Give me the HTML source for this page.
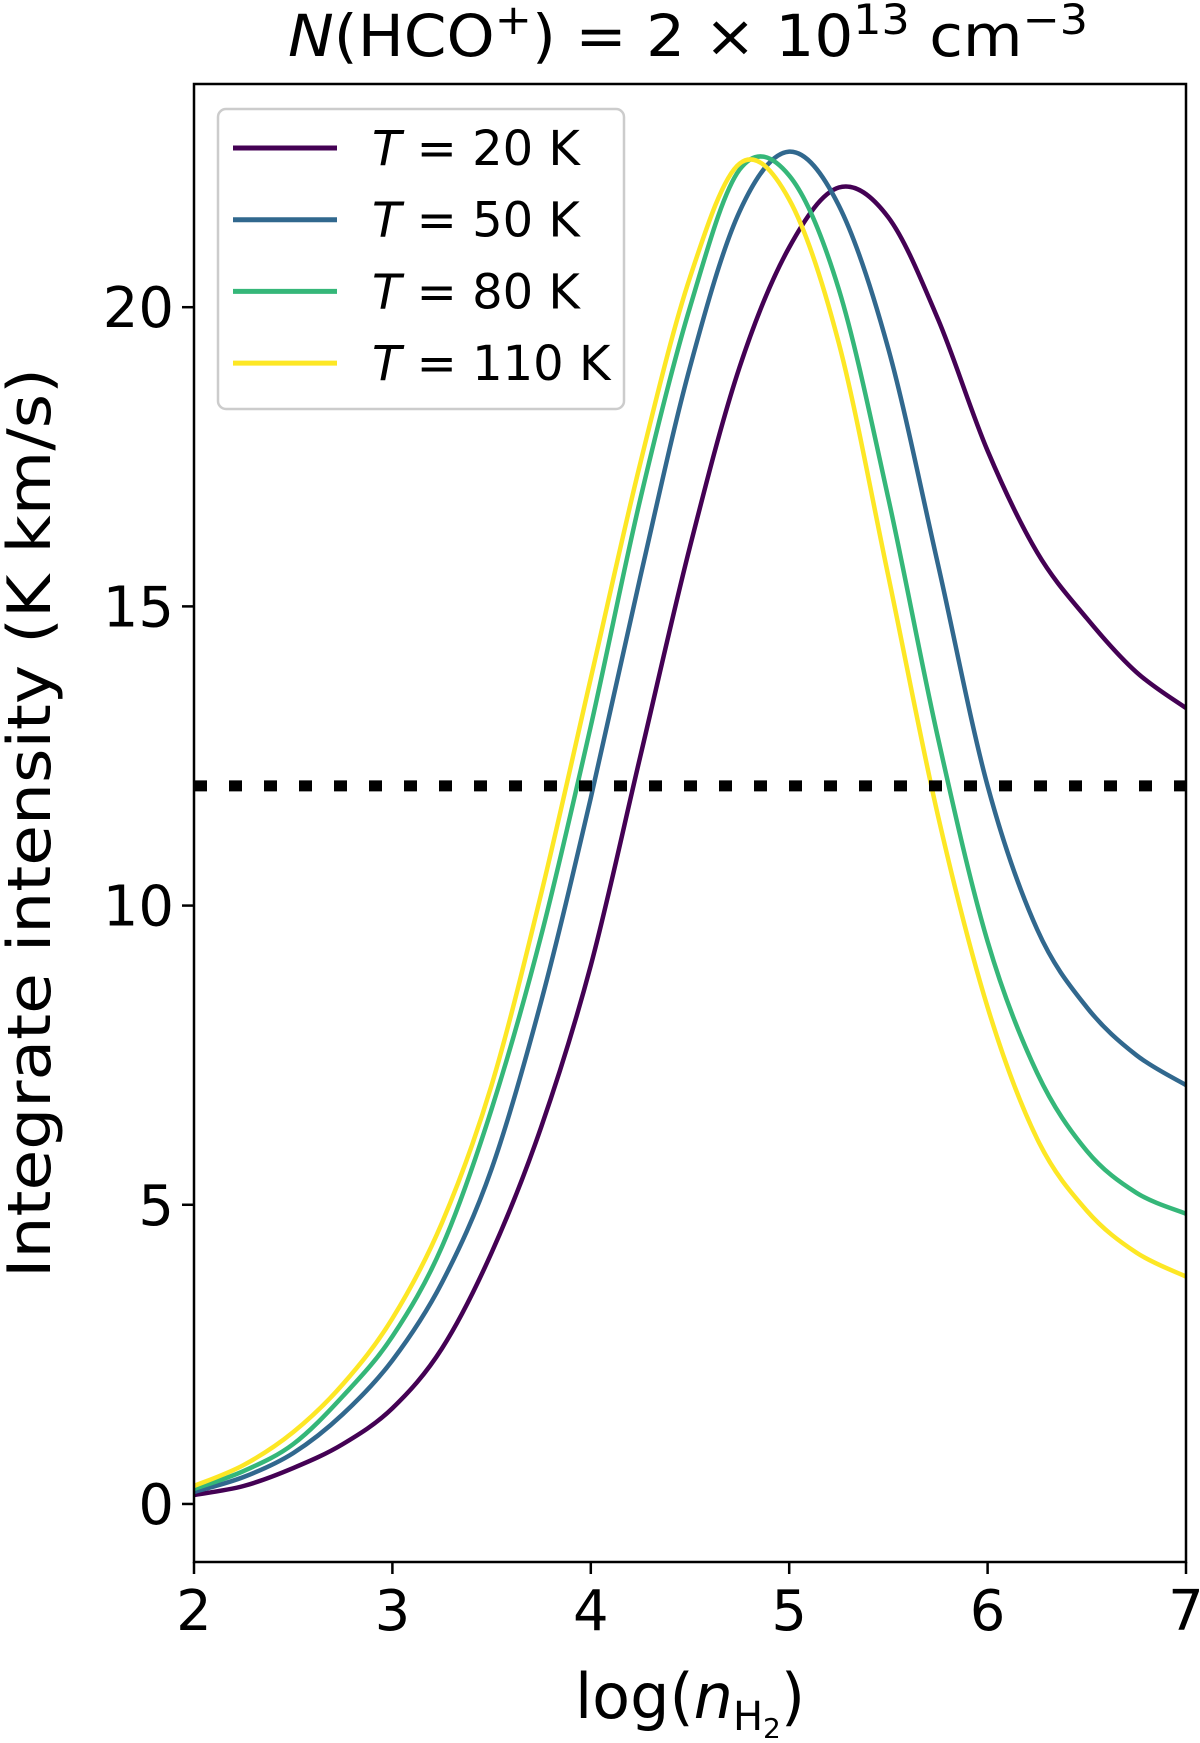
<!DOCTYPE html>
<html><head><meta charset="utf-8"><style>
body{margin:0;background:#fff;}
svg text{font-family:"DejaVu Sans","Liberation Sans",sans-serif;fill:#000;}
</style></head><body>
<svg id="chart" width="1200" height="1738" viewBox="0 0 1200 1738" xmlns="http://www.w3.org/2000/svg">
<text x="688" y="56" font-size="58" text-anchor="middle" textLength="800" lengthAdjust="spacingAndGlyphs"><tspan font-style="italic">N</tspan>(HCO<tspan dy="-22" font-size="42">+</tspan><tspan dy="22">) = 2 × 10</tspan><tspan dy="-22" font-size="42">13</tspan><tspan dy="22"> cm</tspan><tspan dy="-22" font-size="42">−3</tspan></text>
<g id="plot"></g>
<text transform="translate(50,823) rotate(-90)" font-size="60" text-anchor="middle" textLength="910" lengthAdjust="spacingAndGlyphs">Integrate intensity (K km/s)</text>
<text x="690" y="1718" font-size="62" text-anchor="middle">log(<tspan font-style="italic">n</tspan><tspan font-size="40" dy="12">H</tspan><tspan font-size="28" dy="8">2</tspan><tspan dy="-20">)</tspan></text>
</svg>
<script>
const xs20=[2,2.25,2.5,2.75,3,3.25,3.5,3.75,4,4.25,4.5,4.75,5,5.25,5.5,5.75,6,6.25,6.5,6.75,7];
const ys20=[0.15,0.3,0.6,1.0,1.6,2.6,4.2,6.3,9.0,12.5,16.0,19.0,21.0,22.0,21.5,19.8,17.6,15.9,14.8,13.9,13.3];
const xs50=[2,2.25,2.5,2.75,3,3.25,3.5,3.75,4,4.25,4.5,4.75,5,5.25,5.5,5.75,6,6.25,6.5,6.75,7];
const ys50=[0.2,0.45,0.85,1.5,2.4,3.7,5.6,8.4,11.8,15.5,19.0,21.6,22.6,21.7,19.3,15.7,12.0,9.6,8.3,7.5,7.0];
const xs80=[2,2.25,2.5,2.75,3,3.25,3.5,3.75,4,4.25,4.5,4.75,5,5.25,5.5,5.75,6,6.25,6.5,6.75,7];
const ys80=[0.25,0.55,1.0,1.8,2.8,4.3,6.6,9.5,13.0,16.8,20.0,22.3,22.2,20.3,16.8,12.8,9.4,7.2,5.9,5.2,4.85];
const xs110=[2,2.25,2.5,2.75,3,3.25,3.5,3.75,4,4.25,4.5,4.75,5,5.25,5.5,5.75,6,6.25,6.5,6.75,7];
const ys110=[0.3,0.65,1.2,2.0,3.1,4.7,7.0,10.2,13.8,17.4,20.5,22.4,21.8,19.4,15.5,11.5,8.3,6.1,4.9,4.2,3.8];
const seriesLabels=["T = 20 K","T = 50 K","T = 80 K","T = 110 K"];
const seriesTemps=["20","50","80","110"];
const xTicks=[2,3,4,5,6,7];
const yTicks=[0,5,10,15,20];
const threshold=12;

const X0=194,X1=1186,Y0=1562,Y1=84;
const xmin=2,xmax=7,ymin=-0.97,ymax=23.73;
const sx=v=>X0+(v-xmin)/(xmax-xmin)*(X1-X0);
const sy=v=>Y0-(v-ymin)/(ymax-ymin)*(Y0-Y1);
const NS="http://www.w3.org/2000/svg";
const g=document.getElementById('plot');
function mk(t,a){const e=document.createElementNS(NS,t);for(const k in a)e.setAttribute(k,a[k]);return e;}
const colors=["#440154","#31688e","#35b779","#fde725"];
const data=[[xs20,ys20],[xs50,ys50],[xs80,ys80],[xs110,ys110]];
function pathFor(xa,ya){
  const p=xa.map((x,i)=>[sx(x),sy(ya[i])]);
  let d=`M${p[0][0]},${p[0][1]}`;
  for(let i=0;i<p.length-1;i++){
    const p0=p[Math.max(0,i-1)],p1=p[i],p2=p[i+1],p3=p[Math.min(p.length-1,i+2)];
    const c1=[p1[0]+(p2[0]-p0[0])/6,p1[1]+(p2[1]-p0[1])/6];
    const c2=[p2[0]-(p3[0]-p1[0])/6,p2[1]-(p3[1]-p1[1])/6];
    d+=` C${c1[0]},${c1[1]} ${c2[0]},${c2[1]} ${p2[0]},${p2[1]}`;
  }
  return d;
}
const clip=mk('clipPath',{id:'cp'});clip.appendChild(mk('rect',{x:X0,y:Y1,width:X1-X0,height:Y0-Y1}));g.appendChild(clip);
data.forEach((s,i)=>{
  const el=mk('path',{d:pathFor(s[0],s[1]),fill:'none',stroke:colors[i],'stroke-width':4.5,'clip-path':'url(#cp)'});
  
  
  g.appendChild(el);
});
const th=mk('line',{x1:X0,x2:X1,y1:sy(threshold),y2:sy(threshold),stroke:'#000','stroke-width':11,'stroke-dasharray':'13 22'});


g.appendChild(th);
const frame=mk('rect',{x:X0,y:Y1,width:X1-X0,height:Y0-Y1,fill:'none',stroke:'#000','stroke-width':2.5});


g.appendChild(frame);
xTicks.forEach(v=>{
  const t=mk('line',{x1:sx(v),x2:sx(v),y1:Y0,y2:Y0+12,stroke:'#000','stroke-width':2.5});
  
  
  g.appendChild(t);
  const l=mk('text',{x:sx(v),y:Y0+68,'font-size':56,'text-anchor':'middle'});l.textContent=v;
  
  
  g.appendChild(l);
});
yTicks.forEach(v=>{
  const t=mk('line',{x1:X0-12,x2:X0,y1:sy(v),y2:sy(v),stroke:'#000','stroke-width':2.5});
  
  
  g.appendChild(t);
  const l=mk('text',{x:X0-20,y:sy(v)+20,'font-size':56,'text-anchor':'end'});l.textContent=v;
  
  
  g.appendChild(l);
});
const lg=mk('g',{});


g.appendChild(lg);
lg.appendChild(mk('rect',{x:218,y:109,width:406,height:300,rx:8,fill:'#fff','fill-opacity':0.8,stroke:'#ccc','stroke-width':2.5}));
seriesLabels.forEach((lab,i)=>{
  const y=148+i*71.7;
  const ln=mk('line',{x1:233,x2:337,y1:y,y2:y,stroke:colors[i],'stroke-width':5});
  
  
  lg.appendChild(ln);
  const tx=mk('text',{x:372,y:y+17,'font-size':48});
  
  
  tx.innerHTML='<tspan font-style="italic">T</tspan> = '+seriesTemps[i]+' K';
  lg.appendChild(tx);
});
</script>
</body></html>
